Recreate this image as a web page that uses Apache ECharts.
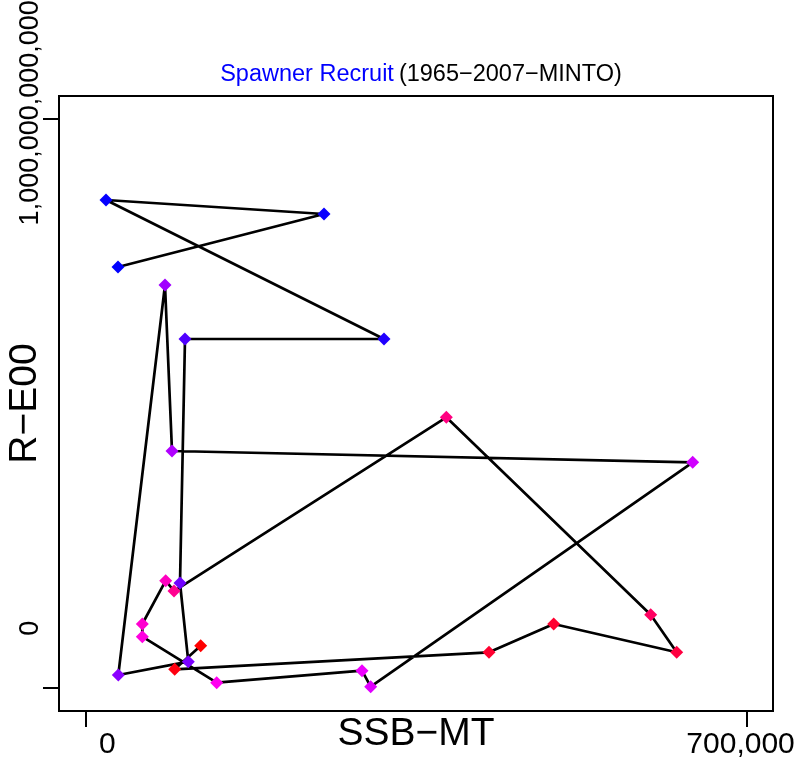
<!DOCTYPE html>
<html>
<head>
<meta charset="utf-8">
<script src="https://cdn.jsdelivr.net/npm/echarts@6/dist/echarts.min.js"></script>
<style>
html,body{margin:0;padding:0;background:#fff;}
#chart{width:796px;height:761px;}
</style>
</head>
<body>
<div id="chart"></div>
<script>
// Spawner (SSB, MT) and recruits, in path order
const ssb = [34470, 252580, 21764, 316110, 105409, 100115, 108903, 34787, 84233, 91644, 642962, 302028, 292816, 138973, 60198, 60198, 84974, 93762, 382073, 598492, 626021, 495788, 427284, 94503, 122032];
const recruits = [7.397e11, 8.328e11, 8.574e11, 6.133e11, 6.133e11, 1.848e11, 4.66e10, 2.32e10, 7.081e11, 4.166e11, 3.967e11, 2.7e9, 3.08e10, 9.7e9, 9.05e10, 1.128e11, 1.888e11, 1.707e11, 4.758e11, 1.291e11, 6.31e10, 1.128e11, 6.31e10, 3.32e10, 7.47e10];
const pointColors = ['#0000FF','#0A00FF','#0500FF','#2000FF','#5000FF','#7000FF','#7A00FF','#8A00FF','#A000FF','#B000FF','#D000FF','#E000FF','#EE00FF','#FF00F0','#FF00E0','#FF00D0','#FF00C0','#FF0090','#FF0080','#FF0060','#FF0040','#FF0030','#FF0030','#FF0010','#FF0000'];
const xTicks = [0, 700000];
const yTicks = [0, 1e12];
const xTickLabels = ['0', '700,000'];
const yTickLabels = ['0', '1,000,000,000,000'];
const titleMain = 'Spawner Recruit';
const titleSub = '(1965\u22122007\u2212MINTO)';
const xName = 'SSB\u2212MT';
const yName = 'R\u2212E00';

const sans = '"Liberation Sans", Arial, Helvetica, sans-serif';

const chart = echarts.init(document.getElementById('chart'), null, {renderer: 'canvas'});
const data = ssb.map((x, i) => ({value: [x, recruits[i]], itemStyle: {color: pointColors[i]}}));

chart.setOption({
  animation: false,
  backgroundColor: '#fff',
  title: {
    text: '{b|' + titleMain + '} {k|' + titleSub + '}',
    left: 416, top: 58, textAlign: 'center',
    textStyle: {fontWeight: 'normal', rich: {
      b: {color: '#0000FF', fontFamily: sans, fontSize: 23.5, fontWeight: 'normal'},
      k: {color: '#000', fontFamily: sans, fontSize: 23.5, fontWeight: 'normal'}
    }}
  },
  grid: {left: 59, right: 23, top: 96, bottom: 50, show: true, borderColor: '#000', borderWidth: 2,
         backgroundColor: 'transparent', outerBoundsMode: 'none', containLabel: false},
  xAxis: {
    type: 'value', min: -28000, max: 728000,
    axisLine: {show: false, onZero: false},
    splitLine: {show: false},
    axisTick: {show: true, customValues: xTicks, length: 16, lineStyle: {color: '#000', width: 2}},
    axisLabel: {
      show: true, customValues: xTicks, margin: 19,
      formatter: (v) => v === 0 ? '{a|' + xTickLabels[0] + '}' : '{b|' + xTickLabels[1] + '}',
      rich: {
        a: {fontFamily: sans, fontSize: 30, color: '#000', padding: [0, 0, 0, 44]},
        b: {fontFamily: sans, fontSize: 30, color: '#000', padding: [0, 12, 0, 0]}
      }
    },
    name: xName, nameLocation: 'middle', nameGap: 23, nameMoveOverlap: false,
    nameTextStyle: {fontFamily: sans, fontSize: 39, color: '#000', verticalAlign: 'middle'}
  },
  yAxis: {
    type: 'value', min: -4e10, max: 1.04e12,
    axisLine: {show: false, onZero: false},
    splitLine: {show: false},
    axisTick: {show: true, customValues: yTicks, length: 16, lineStyle: {color: '#000', width: 2}},
    axisLabel: {
      show: true, customValues: yTicks, rotate: 90, margin: 15,
      formatter: (v) => v === 0 ? '{a|' + yTickLabels[0] + '}' : '{b|' + yTickLabels[1] + '}',
      rich: {
        a: {fontFamily: sans, fontSize: 27, color: '#000', padding: [0, 0, 0, 120]},
        b: {fontFamily: sans, fontSize: 27, color: '#000', padding: [0, 0, 0, 12]}
      }
    },
    name: yName, nameLocation: 'middle', nameGap: 34, nameRotate: 90, nameMoveOverlap: false,
    nameTextStyle: {fontFamily: sans, fontSize: 39, color: '#000', verticalAlign: 'middle'}
  },
  series: [{
    type: 'line',
    data: data,
    symbol: 'diamond',
    symbolSize: 13,
    showAllSymbol: true,
    lineStyle: {color: '#000', width: 2.7},
    itemStyle: {borderWidth: 0},
    emphasis: {disabled: true}
  }]
});
</script>
</body>
</html>
